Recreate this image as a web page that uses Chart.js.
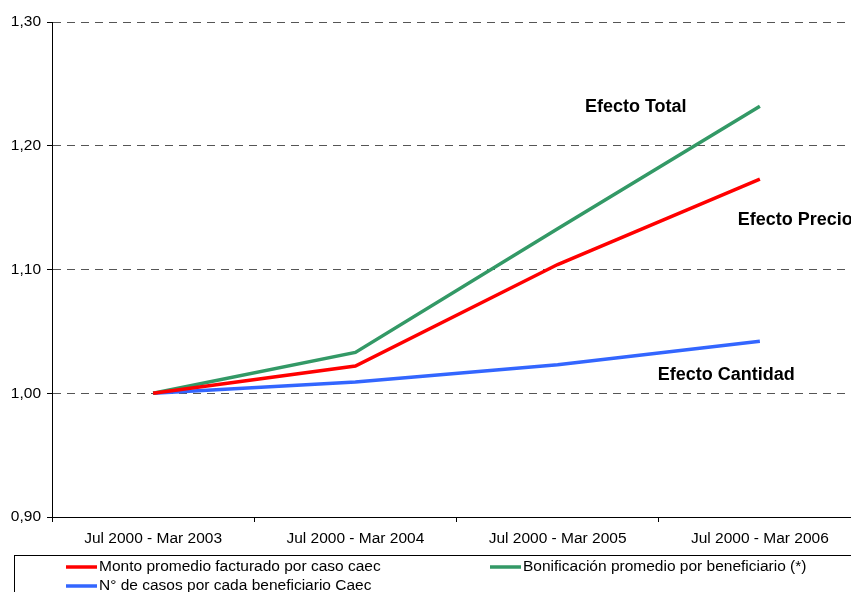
<!DOCTYPE html>
<html>
<head>
<meta charset="utf-8">
<script src="https://cdn.jsdelivr.net/npm/chart.js@4.4.0/dist/chart.umd.min.js"></script>
<style>
  html, body { margin: 0; padding: 0; background: #fff; overflow: hidden; }
  #wrap { width: 862px; height: 592px; }
</style>
</head>
<body>
<div id="wrap"><canvas id="chart"></canvas></div>
<script>
const categories = ["Jul 2000 - Mar 2003", "Jul 2000 - Mar 2004", "Jul 2000 - Mar 2005", "Jul 2000 - Mar 2006"];
const montoPromedio = [1.000, 1.022, 1.104, 1.173];
const bonificacion = [1.000, 1.033, 1.133, 1.232];
const nCasos = [1.000, 1.009, 1.023, 1.042];
const seriesNames = [
  "Monto promedio facturado por caso caec",
  "Bonificación promedio por beneficiario (*)",
  "N° de casos por cada beneficiario Caec"
];
// text notes: [label, category index, value]
const notes = [
  ["Efecto Total", 2.135, 1.231],
  ["Efecto Precio", 2.89, 1.140],
  ["Efecto Cantidad", 2.495, 1.015]
];

const FONT = "'Liberation Sans', Arial, sans-serif";

// draws the bold text notes and the boxed legend at the bottom
const extras = {
  id: "extras",
  afterDraw(chart) {
    const ctx = chart.ctx;
    const x = chart.scales.x, y = chart.scales.y;
    ctx.save();
    ctx.fillStyle = "#000";
    ctx.font = "bold 18px " + FONT;
    ctx.textAlign = "left";
    ctx.textBaseline = "middle";
    notes.forEach(n => {
      const px = x.getPixelForValue(0) + (x.getPixelForValue(1) - x.getPixelForValue(0)) * n[1];
      ctx.fillText(n[0], px, y.getPixelForValue(n[2]));
    });

    // legend box
    ctx.strokeStyle = "#000";
    ctx.lineWidth = 1;
    ctx.strokeRect(14.5, 555.5, 900, 60);
    const items = [
      { ds: 0, x: 66, y: 567 },
      { ds: 1, x: 490, y: 567 },
      { ds: 2, x: 66, y: 586 }
    ];
    ctx.font = "15.5px " + FONT;
    items.forEach(it => {
      const ds = chart.data.datasets[it.ds];
      ctx.strokeStyle = ds.borderColor;
      ctx.lineWidth = 3.5;
      ctx.beginPath();
      ctx.moveTo(it.x, it.y);
      ctx.lineTo(it.x + 31, it.y);
      ctx.stroke();
      ctx.fillStyle = "#000";
      ctx.fillText(ds.label, it.x + 33, it.y);
    });
    ctx.restore();
  }
};

new Chart(document.getElementById("chart"), {
  type: "line",
  data: {
    labels: categories,
    datasets: [
      { label: seriesNames[0], data: montoPromedio, borderColor: "#ff0000" },
      { label: seriesNames[1], data: bonificacion, borderColor: "#339966" },
      { label: seriesNames[2], data: nCasos, borderColor: "#3366ff" }
    ]
  },
  options: {
    responsive: true,
    maintainAspectRatio: false,
    animation: false,
    elements: {
      line: { borderWidth: 3.5, tension: 0 },
      point: { radius: 0, hoverRadius: 0 }
    },
    layout: { padding: { top: 22, right: 1, left: 0, bottom: 0 } },
    plugins: { legend: { display: false }, tooltip: { enabled: false } },
    scales: {
      x: {
        offset: true,
        grid: { offset: true, drawOnChartArea: false, tickLength: 5, color: "#000" },
        border: { color: "#000", width: 1 },
        ticks: { color: "#000", font: { family: FONT, size: 15.5 }, padding: 7, maxRotation: 0 },
        afterFit(s) { s.height = 75; }
      },
      y: {
        min: 0.9,
        max: 1.3,
        grid: { color: "#555", tickColor: "#000", tickLength: 5, tickBorderDash: [] },
        border: { color: "#000", width: 1, dash: [8, 6] },
        ticks: {
          stepSize: 0.1,
          color: "#000",
          font: { family: FONT, size: 15.5 },
          padding: 6,
          callback: v => v.toFixed(2).replace(".", ",")
        },
        afterFit(s) { s.width = 52; }
      }
    }
  },
  plugins: [extras]
});
</script>
</body>
</html>
